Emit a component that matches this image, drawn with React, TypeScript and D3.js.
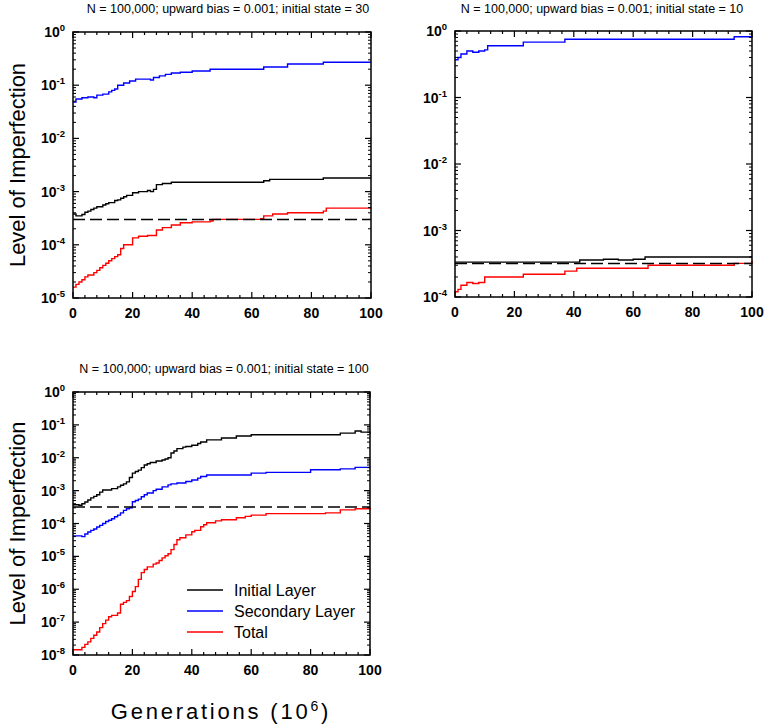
import React, { useEffect, useRef } from 'react';
import * as d3 from 'd3';

type Pt = [number, number];

// Panel A: initial state = 30
const aBlack: Pt[] = [[0, 3.8e-4], [1, 3.5e-4], [3, 3.7e-4], [4, 4.1e-4], [5, 4.3e-4], [6, 4.6e-4], [7, 4.9e-4], [8, 5.2e-4], [10, 5.6e-4], [11, 5.9e-4], [12, 6.2e-4], [14, 6.8e-4], [15, 7e-4], [16, 7.5e-4], [17, 8e-4], [18, 8.5e-4], [20, 9.5e-4], [22, 1e-3], [25, 1.05e-3], [26, 1e-3], [27, 1.1e-3], [28, 1.35e-3], [30, 1.42e-3], [33, 1.5e-3], [64, 1.6e-3], [66, 1.7e-3], [84, 1.8e-3], [100, 1.8e-3]];
const aBlue: Pt[] = [[0, 0.048], [1, 0.055], [3, 0.058], [5, 0.06], [7, 0.058], [8, 0.065], [10, 0.068], [12, 0.075], [13, 0.08], [14, 0.085], [15, 0.1], [17, 0.11], [19, 0.12], [21, 0.13], [24, 0.13], [26, 0.125], [27, 0.14], [29, 0.15], [31, 0.16], [33, 0.17], [36, 0.175], [40, 0.185], [46, 0.2], [64, 0.22], [72, 0.25], [84, 0.27], [100, 0.27]];
const aRed: Pt[] = [[0, 1.6e-5], [1, 1.8e-5], [2, 2e-5], [3, 2.2e-5], [4, 2.5e-5], [5, 2.7e-5], [7, 3e-5], [8, 3.3e-5], [9, 3.7e-5], [10, 4.1e-5], [11, 4.5e-5], [12, 5e-5], [13, 5.5e-5], [14, 6e-5], [15, 6.5e-5], [16, 8.5e-5], [17, 1e-4], [20, 1.35e-4], [22, 1.45e-4], [25, 1.5e-4], [28, 1.9e-4], [30, 2.1e-4], [33, 2.35e-4], [36, 2.6e-4], [40, 2.7e-4], [46, 2.8e-4], [47, 3e-4], [63, 3.1e-4], [64, 3.5e-4], [67, 3.8e-4], [72, 4e-4], [84, 4.3e-4], [85, 4.9e-4], [100, 5e-4]];

// Panel B: initial state = 10
const bBlack: Pt[] = [[0, 3.35e-4], [41, 3.35e-4], [42, 3.6e-4], [50, 3.7e-4], [55, 3.6e-4], [60, 3.7e-4], [64, 4e-4], [100, 4e-4]];
const bBlue: Pt[] = [[0, 0.37], [1, 0.4], [2, 0.45], [4, 0.5], [6, 0.48], [8, 0.5], [10, 0.52], [11, 0.6], [23, 0.68], [37, 0.75], [93, 0.75], [94, 0.82], [100, 0.8]];
const bRed: Pt[] = [[0, 1.2e-4], [1, 1.3e-4], [2, 1.5e-4], [4, 1.65e-4], [6, 1.6e-4], [8, 1.65e-4], [10, 2e-4], [23, 2.2e-4], [37, 2.45e-4], [41, 2.7e-4], [65, 3e-4], [94, 3.2e-4], [100, 3.5e-4]];

// Panel C: initial state = 100
const cBlack: Pt[] = [[0, 3.7e-4], [2, 3.6e-4], [3, 4e-4], [4, 4.5e-4], [5, 5.2e-4], [6, 6e-4], [7, 6.7e-4], [8, 7.5e-4], [9, 9e-4], [10, 1.05e-3], [13, 1.15e-3], [15, 1.3e-3], [16, 1.45e-3], [17, 1.6e-3], [18, 1.85e-3], [19, 2.5e-3], [20, 3.4e-3], [21, 3.8e-3], [22, 4.2e-3], [23, 5e-3], [24, 6e-3], [25, 6.6e-3], [26, 7.2e-3], [28, 8e-3], [30, 8.5e-3], [31, 9.2e-3], [32, 1e-2], [33, 1.4e-2], [34, 1.6e-2], [35, 1.9e-2], [37, 2.1e-2], [38, 2.2e-2], [40, 2.4e-2], [42, 2.7e-2], [43, 3e-2], [45, 3.5e-2], [50, 4e-2], [55, 4.6e-2], [60, 5e-2], [90, 5.6e-2], [95, 6.5e-2], [97, 6e-2], [100, 5.5e-2]];
const cBlue: Pt[] = [[0, 4.2e-5], [3, 4e-5], [4, 4.8e-5], [5, 5.5e-5], [6, 6.2e-5], [7, 6.8e-5], [8, 7.8e-5], [9, 8.8e-5], [10, 1e-4], [11, 1.15e-4], [12, 1.25e-4], [13, 1.4e-4], [14, 1.6e-4], [15, 1.8e-4], [16, 2.1e-4], [17, 2.5e-4], [18, 2.8e-4], [19, 3e-4], [20, 4.6e-4], [21, 5e-4], [22, 5.5e-4], [23, 6.5e-4], [24, 7.5e-4], [25, 8.5e-4], [27, 1e-3], [28, 1.1e-3], [30, 1.3e-3], [32, 1.5e-3], [33, 1.6e-3], [35, 1.7e-3], [38, 1.9e-3], [40, 2.1e-3], [42, 2.4e-3], [43, 2.7e-3], [45, 3e-3], [60, 3.4e-3], [65, 3.6e-3], [80, 4.3e-3], [90, 4.6e-3], [95, 5.1e-3], [100, 5.3e-3]];
const cRed: Pt[] = [[0, 1.45e-8], [3, 1.7e-8], [4, 2.1e-8], [5, 2.5e-8], [6, 3.2e-8], [7, 4e-8], [8, 5e-8], [9, 6.8e-8], [10, 9e-8], [11, 1.15e-7], [12, 1.45e-7], [13, 1.6e-7], [15, 1.9e-7], [16, 3.5e-7], [17, 4e-7], [18, 4.5e-7], [19, 6e-7], [20, 8.5e-7], [21, 1.2e-6], [22, 2e-6], [23, 3.2e-6], [24, 4e-6], [25, 4.8e-6], [27, 5.8e-6], [28, 6.3e-6], [29, 7.5e-6], [30, 9e-6], [31, 1.05e-5], [32, 1.2e-5], [33, 1.6e-5], [34, 2.3e-5], [35, 3.2e-5], [36, 3.7e-5], [38, 4.5e-5], [40, 5.6e-5], [41, 6.2e-5], [43, 8e-5], [44, 9.2e-5], [45, 1.05e-4], [48, 1.2e-4], [50, 1.3e-4], [55, 1.5e-4], [58, 1.65e-4], [60, 1.8e-4], [65, 2e-4], [85, 2.1e-4], [90, 2.6e-4], [95, 2.8e-4], [100, 3e-4]];

const titles = [
  'N = 100,000; upward bias = 0.001; initial state = 30',
  'N = 100,000; upward bias = 0.001; initial state =  10',
  'N = 100,000; upward bias = 0.001; initial state = 100',
];
const thresholds = [3e-4, 3.2e-4, 3.2e-4];
const xTicks = [0, 20, 40, 60, 80, 100];
const legendLabels = ['Initial Layer', 'Secondary Layer', 'Total'];
const colors = ['#000000', '#0000ff', '#ff0000'];

const FONT = 'Arial, "Liberation Sans", sans-serif';

const App: React.FC = () => {
  const svgRef = useRef<SVGSVGElement>(null);

  useEffect(() => {
    const svg = d3.select(svgRef.current);
    svg.selectAll('*').remove();

    const panels = [
      { l: 73, r: 371, t: 32, b: 298, minExp: -5, series: [aBlack, aBlue, aRed], tx: 228, ty: 13, ylab: true },
      { l: 455, r: 752, t: 31, b: 297, minExp: -4, series: [bBlack, bBlue, bRed], tx: 602, ty: 13, ylab: false },
      { l: 73, r: 370, t: 392, b: 655, minExp: -8, series: [cBlack, cBlue, cRed], tx: 224, ty: 373, ylab: true },
    ];

    panels.forEach((p, i) => {
      const g = svg.append('g');
      const x = d3.scaleLinear().domain([0, 100]).range([p.l, p.r]);
      const y = d3.scaleLog().domain([Math.pow(10, p.minExp), 1]).range([p.b, p.t]);

      // title
      g.append('text').attr('x', p.tx).attr('y', p.ty).attr('text-anchor', 'middle')
        .attr('font-size', 12.5).attr('font-family', FONT).text(titles[i]);

      // lines
      const line = d3.line<Pt>().x(d => x(d[0])).y(d => y(d[1])).curve(d3.curveStepAfter);
      p.series.forEach((s, k) => {
        g.append('path').attr('d', line(s)).attr('fill', 'none')
          .attr('stroke', colors[k]).attr('stroke-width', 1.4);
      });

      // dashed threshold
      g.append('line').attr('x1', x(0)).attr('x2', x(100))
        .attr('y1', y(thresholds[i])).attr('y2', y(thresholds[i]))
        .attr('stroke', '#000').attr('stroke-width', 1.5).attr('stroke-dasharray', '12,5');

      // frame
      g.append('rect').attr('x', p.l).attr('y', p.t).attr('width', p.r - p.l).attr('height', p.b - p.t)
        .attr('fill', 'none').attr('stroke', '#000').attr('stroke-width', 1.5);

      // x ticks (inside, mirrored)
      d3.range(0, 101, 4).forEach(v => {
        const len = v % 20 === 0 ? 6 : 3;
        g.append('line').attr('x1', x(v)).attr('x2', x(v)).attr('y1', p.b).attr('y2', p.b - len).attr('stroke', '#000').attr('stroke-width', 1.2);
        g.append('line').attr('x1', x(v)).attr('x2', x(v)).attr('y1', p.t).attr('y2', p.t + len).attr('stroke', '#000').attr('stroke-width', 1.2);
      });
      xTicks.forEach(v => {
        g.append('text').attr('x', x(v)).attr('y', p.b + 20).attr('text-anchor', 'middle')
          .attr('font-size', 14).attr('font-weight', 'bold').attr('font-family', FONT).text(String(v));
      });

      // y ticks
      for (let e = p.minExp; e <= 0; e++) {
        const v = Math.pow(10, e);
        g.append('line').attr('x1', p.l).attr('x2', p.l + 6).attr('y1', y(v)).attr('y2', y(v)).attr('stroke', '#000').attr('stroke-width', 1.2);
        g.append('line').attr('x1', p.r).attr('x2', p.r - 6).attr('y1', y(v)).attr('y2', y(v)).attr('stroke', '#000').attr('stroke-width', 1.2);
        const t = g.append('text').attr('x', p.l - 8).attr('y', y(v) + 5).attr('text-anchor', 'end')
          .attr('font-size', 14).attr('font-weight', 'bold').attr('font-family', FONT);
        t.append('tspan').text('10');
        t.append('tspan').attr('dy', -6).attr('font-size', 9.5).text(String(e));
        if (e < 0) {
          for (let m = 2; m <= 9; m++) {
            const mv = m * v;
            g.append('line').attr('x1', p.l).attr('x2', p.l + 3).attr('y1', y(mv)).attr('y2', y(mv)).attr('stroke', '#000').attr('stroke-width', 1);
            g.append('line').attr('x1', p.r).attr('x2', p.r - 3).attr('y1', y(mv)).attr('y2', y(mv)).attr('stroke', '#000').attr('stroke-width', 1);
          }
        }
      }

      if (p.ylab) {
        g.append('text').attr('transform', `translate(25,${(p.t + p.b) / 2}) rotate(-90)`)
          .attr('text-anchor', 'middle').attr('font-size', 22).attr('font-family', FONT)
          .text('Level of Imperfection');
      }

      if (i === 2) {
        legendLabels.forEach((lab, k) => {
          const ly = 590 + k * 21;
          g.append('line').attr('x1', 187).attr('x2', 223).attr('y1', ly).attr('y2', ly)
            .attr('stroke', colors[k]).attr('stroke-width', 1.4);
          g.append('text').attr('x', 234).attr('y', ly + 6).attr('font-size', 16).attr('font-family', FONT).text(lab);
        });
        const xt = g.append('text').attr('x', 221).attr('y', 719).attr('text-anchor', 'middle')
          .attr('font-size', 22).attr('letter-spacing', 2.8).attr('font-family', FONT);
        xt.append('tspan').text('Generations (10');
        xt.append('tspan').attr('dy', -8).attr('font-size', 14).text('6');
        xt.append('tspan').attr('dy', 8).text(')');
      }
    });
  }, []);

  return (
    <svg ref={svgRef} width={768} height={727}
      style={{ position: 'absolute', left: 0, top: 0, background: '#fff' }} />
  );
};

export default App;
